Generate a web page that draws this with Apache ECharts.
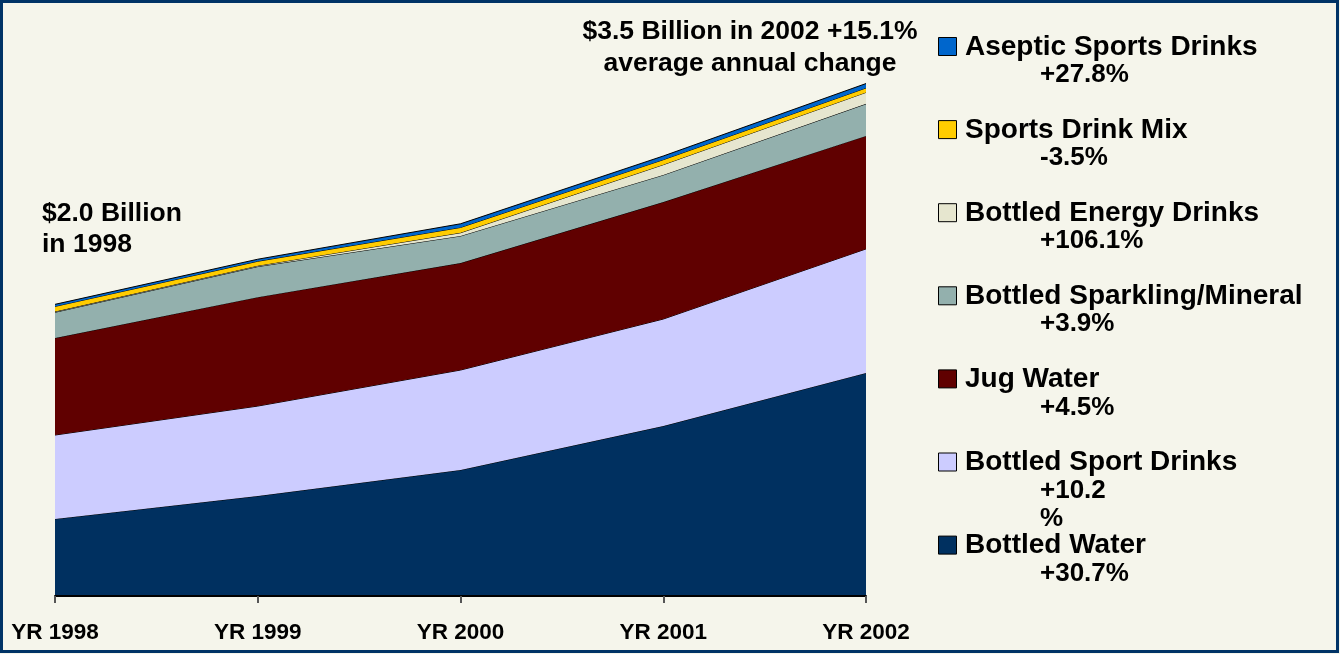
<!DOCTYPE html>
<html>
<head>
<meta charset="utf-8">
<script src="https://cdn.jsdelivr.net/npm/echarts@6/dist/echarts.min.js"></script>
<style>html,body{margin:0;padding:0;background:#F5F5EB;}#c{width:1340px;height:654px;}</style>
</head>
<body>
<div id="c"></div>
<script>
// Categories
var years = ['YR 1998', 'YR 1999', 'YR 2000', 'YR 2001', 'YR 2002'];
// Series values (millions of dollars), stacked bottom to top
var bottledWater = [524, 680, 857, 1156, 1517];
var bottledSport = [571, 612, 680, 728, 844];
var jugWater = [660, 741, 728, 796, 769];
var sparkling = [175, 208, 184, 184, 218];
var energy = [5, 6, 22, 70, 78];
var drinkMix = [35, 30, 36, 34, 30];
var aseptic = [14, 14, 25, 25, 30];
// Legend labels (top to bottom) and average annual change
var legendNames = ['Aseptic Sports Drinks', 'Sports Drink Mix', 'Bottled Energy Drinks', 'Bottled Sparkling/Mineral', 'Jug Water', 'Bottled Sport Drinks', 'Bottled Water'];
var legendChanges = ['+27.8%', '-3.5%', '+106.1%', '+3.9%', '+4.5%', '+10.2\n%', '+30.7%'];
var legendColors = ['#0066CC', '#FFCC00', '#E6E6CF', '#93B0AD', '#600000', '#CCCCFF', '#003060'];
var noteTop = ['$3.5 Billion in 2002 +15.1%', 'average annual change'];
var noteLeft = ['$2.0 Billion', 'in 1998'];

var FONT = '"Liberation Sans", Arial, sans-serif';
var seriesData = [bottledWater, bottledSport, jugWater, sparkling, energy, drinkMix, aseptic];
var seriesNames = legendNames.slice().reverse();
var seriesColors = legendColors.slice().reverse();

var series = seriesData.map(function (d, i) {
  return {
    name: seriesNames[i],
    type: 'line',
    stack: 'total',
    data: d,
    symbol: 'none',
    smooth: false,
    lineStyle: { color: '#000', width: 1 },
    areaStyle: { color: seriesColors[i], opacity: 1 },
    z: 2 + i
  };
});

var graphics = [];
graphics.push({
  type: 'rect', shape: { x: 1.5, y: 1.5, width: 1336, height: 650 },
  style: { fill: null, stroke: '#003366', lineWidth: 3 }, z: 100, silent: true
});
legendNames.forEach(function (n, i) {
  var cy = 47 + i * 83.1;
  graphics.push({
    type: 'rect', shape: { x: 938.5, y: cy - 9.5, width: 18, height: 18 },
    style: { fill: legendColors[i], stroke: '#000', lineWidth: 1 }, z: 50
  });
  graphics.push({
    type: 'text', x: 965, y: cy, z: 50,
    style: { text: n, font: 'bold 28px ' + FONT, fill: '#000', verticalAlign: 'middle' }
  });
  graphics.push({
    type: 'text', x: 1040, y: cy + 14, z: 50,
    style: { text: legendChanges[i], font: 'bold 26px ' + FONT, fill: '#000', verticalAlign: 'top', lineHeight: 28 }
  });
});
noteTop.forEach(function (t, i) {
  graphics.push({
    type: 'text', x: 750, y: 32 + i * 32, z: 50,
    style: { text: t, font: 'bold 26.5px ' + FONT, fill: '#000', align: 'center', verticalAlign: 'middle' }
  });
});
noteLeft.forEach(function (t, i) {
  graphics.push({
    type: 'text', x: 42, y: 214 + i * 31, z: 50,
    style: { text: t, font: 'bold 26.5px ' + FONT, fill: '#000', align: 'left', verticalAlign: 'middle' }
  });
});

var chart = echarts.init(document.getElementById('c'), null, { renderer: 'canvas' });
chart.setOption({
  backgroundColor: '#F5F5EB',
  animation: false,
  grid: { left: 55, right: 474, top: 8, bottom: 58, containLabel: false },
  xAxis: {
    type: 'category',
    data: years,
    boundaryGap: false,
    axisLine: { show: true, lineStyle: { color: '#000', width: 2 } },
    axisTick: { show: true, length: 7, lineStyle: { color: '#555', width: 2 } },
    axisLabel: { color: '#000', fontWeight: 'bold', fontSize: 22.5, fontFamily: FONT, margin: 25 },
    z: 20
  },
  yAxis: {
    type: 'value', min: 0, max: 4000,
    show: false,
    splitLine: { show: false }
  },
  series: series,
  graphic: graphics
});
</script>
</body>
</html>
